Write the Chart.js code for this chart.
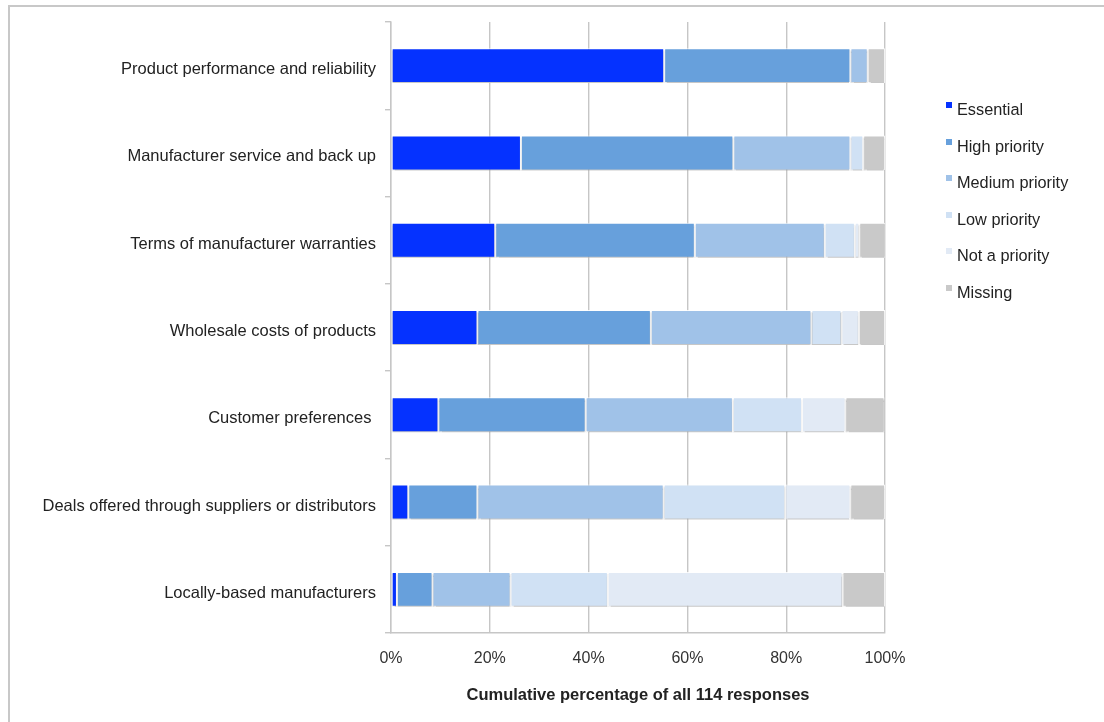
<!DOCTYPE html>
<html>
<head>
<meta charset="utf-8">
<title>Priorities when choosing products</title>
<script src="https://cdn.jsdelivr.net/npm/chart.js@4/dist/chart.umd.min.js"></script>
<style>
    html, body { margin: 0; padding: 0; background: #fff; }
    body { width: 1104px; height: 722px; position: relative; overflow: hidden; font-family: "Liberation Sans", Arial, Helvetica, sans-serif; }
    .frame { position: absolute; left: 8px; top: 5px; right: -10px; bottom: -10px; border-top: 2px solid #c8c8c8; border-left: 2px solid #c8c8c8; }
    #chart { position: absolute; left: 0; top: 0; }
    #legend { position: absolute; left: 946px; top: 98px; margin: 0; padding: 0; list-style: none; }
    #legend li { height: 36.5px; font-size: 16.3px; color: #222; line-height: 22px; white-space: nowrap; }
    #legend .swatch { display: inline-block; width: 6px; height: 6px; margin-right: 5px; vertical-align: 7px; }
</style>
</head>
<body>
<div class="frame"></div>
<canvas id="chart" width="1104" height="722"></canvas>
<ul id="legend"></ul>

<script>
// Categories, top to bottom
const categories = [
    'Product performance and reliability',
    'Manufacturer service and back up',
    'Terms of manufacturer warranties',
    'Wholesale costs of products',
    'Customer preferences ',
    'Deals offered through suppliers or distributors',
    'Locally-based manufacturers'
];

// Share of all 114 responses, in percent
const essential      = [55.3, 26.3, 21.1, 17.5,  9.6,  3.5,  1.2];
const highPriority   = [37.7, 43.0, 40.4, 35.1, 29.8, 14.0,  7.2];
const mediumPriority = [ 3.5, 23.7, 26.3, 32.5, 29.8, 37.7, 15.8];
const lowPriority    = [ 0.0,  2.6,  6.1,  6.1, 14.0, 24.6, 19.7];
const notPriority    = [ 0.0,  0.0,  0.9,  3.5,  8.8, 13.2, 47.5];
const missing        = [ 3.5,  4.4,  5.3,  5.3,  7.9,  7.0,  8.6];

const seriesNames = ['Essential', 'High priority', 'Medium priority', 'Low priority', 'Not a priority', 'Missing'];
const seriesColors = ['#0532ff', '#67a0dc', '#a0c2e8', '#d0e1f4', '#e2eaf5', '#c9c9c9'];
const seriesValues = [essential, highPriority, mediumPriority, lowPriority, notPriority, missing];

const xTicks = [0, 20, 40, 60, 80, 100];

const datasets = seriesNames.map((name, i) => ({
    label: name,
    data: seriesValues[i],
    backgroundColor: seriesColors[i],
    borderColor: 'rgba(255,255,255,0.85)',
    borderWidth: 1,
    borderSkipped: false,
    categoryPercentage: 1,
    barPercentage: 0.4
}));

// Soft grey drop line under every bar
const barShadow = {
    id: 'barShadow',
    beforeDatasetsDraw(chart) {
        const ctx = chart.ctx;
        ctx.save();
        ctx.shadowColor = 'rgba(0,0,0,0.22)';
        ctx.shadowOffsetY = 2;
        ctx.shadowBlur = 1;
    },
    afterDatasetsDraw(chart) {
        chart.ctx.restore();
    }
};

const gridColor = '#c6c6c6';
const fontFamily = '"Liberation Sans", Arial, Helvetica, sans-serif';

const chart = new Chart(document.getElementById('chart'), {
    type: 'bar',
    data: { labels: categories, datasets },
    options: {
        indexAxis: 'y',
        responsive: false,
        animation: false,
        layout: { padding: { top: 22, right: 219, left: 0, bottom: 0 } },
        plugins: {
            legend: { display: false },
            tooltip: { enabled: false }
        },
        scales: {
            x: {
                stacked: true,
                min: 0,
                max: 100,
                afterBuildTicks: scale => { scale.ticks = xTicks.map(v => ({ value: v })); },
                afterFit: scale => { scale.height = 89; },
                ticks: {
                    color: '#333',
                    font: { family: fontFamily, size: 16 },
                    padding: 16,
                    callback: v => v + '%'
                },
                grid: { color: gridColor, lineWidth: 1.4, drawTicks: false },
                border: { color: gridColor, width: 1.4 },
                title: {
                    display: true,
                    text: 'Cumulative percentage of all 114 responses',
                    color: '#222',
                    font: { family: fontFamily, size: 16.5, weight: 'bold' },
                    padding: { top: 0, bottom: 17 }
                }
            },
            y: {
                stacked: true,
                afterFit: scale => { scale.width = 391; },
                ticks: { color: '#222', font: { family: fontFamily, size: 16.5 }, padding: 9, labelOffset: 4 },
                grid: { offset: true, drawOnChartArea: false, color: gridColor, lineWidth: 1.4, tickLength: 6 },
                border: { color: gridColor, width: 1.4 }
            }
        }
    },
    plugins: [barShadow]
});

// Legend list beside the plot
const legend = document.getElementById('legend');
chart.data.datasets.forEach(ds => {
    const li = document.createElement('li');
    li.innerHTML = `<span class="swatch" style="background:${ds.backgroundColor}"></span>${ds.label}`;
    legend.appendChild(li);
});
</script>
</body>
</html>
